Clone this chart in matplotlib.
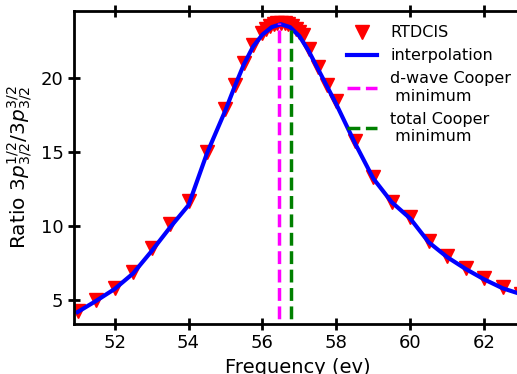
import numpy as np
import matplotlib
matplotlib.use("Agg")
import matplotlib.pyplot as plt

# RTDCIS ratio vs photon frequency
freq = [51.0, 51.5, 52.0, 52.5, 53.0, 53.5, 54.0, 54.5, 55.0, 55.25, 55.5, 55.75,
        56.0, 56.1, 56.2, 56.3, 56.4, 56.5, 56.6, 56.7, 56.8, 56.9, 57.0, 57.1,
        57.25, 57.5, 57.75, 58.0, 58.5, 59.0, 59.5, 60.0, 60.5, 61.0, 61.5, 62.0,
        62.5, 63.0]
ratio = [4.3, 5.0, 5.85, 6.9, 8.5, 10.1, 11.7, 15.0, 17.9, 19.5, 21.0, 22.2,
         23.0, 23.3, 23.5, 23.6, 23.7, 23.7, 23.7, 23.6, 23.5, 23.3, 23.1, 22.9,
         21.9, 20.7, 19.5, 18.4, 15.7, 13.3, 11.6, 10.6, 9.0, 8.0, 7.2, 6.5,
         5.9, 5.4]

# interpolation curve
interp_x = [51.0, 51.5, 52.0, 52.5, 53.0, 53.5, 54.0, 54.5, 55.0, 55.25, 55.5, 55.75,
            56.0, 56.25, 56.5, 56.75, 57.0, 57.25, 57.5, 57.75, 58.0, 58.5, 59.0,
            59.5, 60.0, 60.5, 61.0, 61.5, 62.0, 62.5, 63.0]
interp_y = [4.2, 4.95, 5.75, 6.8, 8.3, 9.9, 11.4, 14.9, 17.8, 19.4, 20.9, 22.1,
            22.9, 23.4, 23.6, 23.4, 22.8, 21.8, 20.6, 19.4, 18.2, 15.6, 13.2,
            11.6, 10.5, 8.9, 7.9, 7.1, 6.4, 5.8, 5.4]

d_wave_min = 56.45
total_min = 56.78
d_wave_top = 23.65
total_top = 23.2

fig = plt.figure(figsize=(5.17, 3.74), dpi=100)
ax = fig.add_axes([0.143, 0.134, 0.865, 0.837])

ax.plot(freq, ratio, linestyle="none", marker="v", color="red", markersize=9.5,
        label="RTDCIS")
ax.plot(interp_x, interp_y, color="blue", linewidth=3, label="interpolation")
ax.vlines(d_wave_min, 0, d_wave_top, colors="magenta", linestyles="--",
          linewidth=2.5, label="d-wave Cooper\n minimum")
ax.vlines(total_min, 0, total_top, colors="green", linestyles="--",
          linewidth=2.5, label="total Cooper\n minimum")

ax.set_xlim(50.9, 63.0)
ax.set_ylim(3.4, 24.5)
ax.set_xticks([52, 54, 56, 58, 60, 62])
ax.set_yticks([5, 10, 15, 20])
ax.set_xlabel("Frequency (ev)", fontsize=14)
ax.set_ylabel(r"Ratio $3p^{1/2}_{3/2}/3p^{3/2}_{3/2}$", fontsize=14.5)

for s in ax.spines.values():
    s.set_linewidth(2)
ax.tick_params(axis="both", direction="inout", length=8, width=2,
               labelsize=13, top=True)

ax.legend(loc="upper right", frameon=False, fontsize=11.5, handlelength=1.9,
          bbox_to_anchor=(1.01, 1.0))

fig.savefig("out.png", dpi=100)
